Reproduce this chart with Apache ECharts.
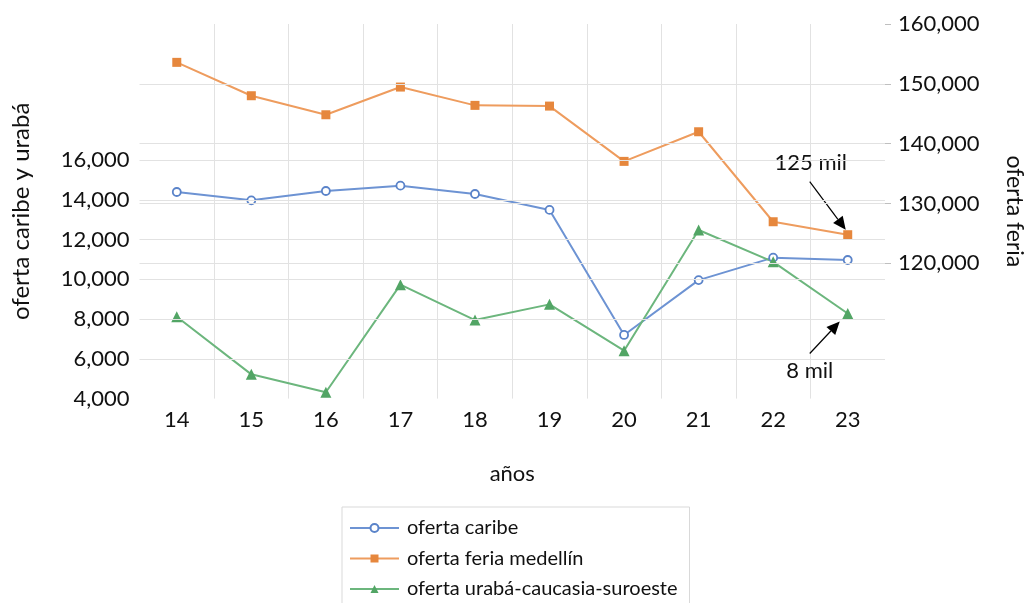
<!DOCTYPE html>
<html><head><meta charset="utf-8">
<script src="https://cdn.jsdelivr.net/npm/echarts@6/dist/echarts.min.js"></script>
<style>html,body{margin:0;padding:0;background:#fff}#c{width:1034px;height:603px}</style>
</head><body><div id="c"></div>
<script>
const years = ['14','15','16','17','18','19','20','21','22','23'];
const ofertaCaribe = [14390,13970,14440,14710,14290,13490,7200,9960,11090,10970];
const ofertaFeria = [153590,148010,144830,149460,146400,146280,137040,141990,126950,124780];
const ofertaUraba = [8120,5220,4320,9730,7950,8740,6410,12480,10880,8280];
const leftTicks = [4000,6000,8000,10000,12000,14000,16000];
const rightTicks = [120000,130000,140000,150000,160000];
const leftGrid = [6000,8000,10000,12000,14000,16000];
const rightGrid = [120000,130000,140000,150000];
const seriesNames = ['oferta caribe','oferta feria medellín','oferta urabá-caucasia-suroeste'];
const noteTexts = ['125 mil','8 mil'];

const FONT = 'Lato, "Open Sans", "DejaVu Sans", sans-serif';
const TXT = '#111';
const GRID = '#e2e2e2';
const fmt = v => v.toLocaleString('en-US');

const chart = echarts.init(document.getElementById('c'), null, {renderer:'canvas'});

function gridSeries(name, axis, values){
  return {
    name, type:'line', yAxisIndex:axis, data:[], silent:true, z:1,
    markLine:{
      silent:true, animation:false, symbol:['none','none'],
      label:{show:false}, emphasis:{disabled:true},
      lineStyle:{color:GRID, width:1, type:'solid'},
      data: values.map(v=>({yAxis:v}))
    }
  };
}

chart.setOption({
  animation:false,
  textStyle:{fontFamily:FONT},
  grid:{left:139.5, right:145, top:24, bottom:204.4, containLabel:false},
  legend:{
    data:seriesNames, orient:'vertical', left:342, top:507, height:84, width:336,
    padding:[10,12,20,7], itemWidth:49, itemHeight:10, itemGap:8.5,
    textStyle:{fontSize:20, color:TXT, fontFamily:FONT, lineHeight:22, padding:[0,0,0,3]},
    borderColor:'#d9d9d9', borderWidth:1, borderRadius:0, selectedMode:false
  },
  xAxis:{
    type:'category', data:years, boundaryGap:true,
    axisLine:{show:false}, axisTick:{show:false},
    splitLine:{show:true, showMinLine:false, showMaxLine:false, lineStyle:{color:GRID, width:1}},
    axisLabel:{fontSize:22, color:TXT, margin:10, fontFamily:FONT},
    name:'años', nameLocation:'middle', nameGap:64,
    nameTextStyle:{fontSize:22, color:TXT, fontFamily:FONT}
  },
  yAxis:[
    {
      type:'value', position:'left', min:4000, max:22840,
      axisLine:{show:false}, axisTick:{show:false}, splitLine:{show:false},
      axisLabel:{customValues:leftTicks, formatter:fmt, fontSize:22, color:TXT, margin:10, fontFamily:FONT},
      name:'oferta caribe y urabá', nameLocation:'middle', nameGap:106, nameRotate:90,
      nameTextStyle:{fontSize:24, color:TXT, fontFamily:FONT}
    },
    {
      type:'value', position:'right', min:97390, max:160000,
      axisLine:{show:false},
      axisTick:{show:true, customValues:rightTicks, length:6, lineStyle:{color:'#bfbfbf', width:1}},
      splitLine:{show:false},
      axisLabel:{customValues:rightTicks, formatter:fmt, fontSize:22, color:TXT, margin:13, fontFamily:FONT},
      name:'oferta feria', nameLocation:'middle', nameGap:118, nameRotate:-90,
      nameTextStyle:{fontSize:23, color:TXT, fontFamily:FONT}
    }
  ],
  series:[
    gridSeries('gridL',0,leftGrid),
    gridSeries('gridR',1,rightGrid),
    {
      name:seriesNames[0], type:'line', yAxisIndex:0, data:ofertaCaribe, z:3,
      symbol:'circle', symbolSize:8, showAllSymbol:true,
      lineStyle:{color:'#6d93d3', width:2},
      itemStyle:{color:'#ffffff', borderColor:'#5a83c9', borderWidth:1.8}
    },
    {
      name:seriesNames[1], type:'line', yAxisIndex:1, data:ofertaFeria, z:3,
      symbol:'rect', symbolSize:9, showAllSymbol:true,
      lineStyle:{color:'#ee9c5e', width:2},
      itemStyle:{color:'#e6873d'}
    },
    {
      name:seriesNames[2], type:'line', yAxisIndex:0, data:ofertaUraba, z:3,
      symbol:'triangle', symbolSize:11, showAllSymbol:true,
      lineStyle:{color:'#6cb67d', width:2},
      itemStyle:{color:'#52a565'}
    }
  ]
});

function arrowGraphics(x1,y1,x2,y2){
  const ang = Math.atan2(y2-y1, x2-x1);
  const L = 13, W = 6;
  const bx = x2 - L*Math.cos(ang), by = y2 - L*Math.sin(ang);
  const px = -Math.sin(ang)*W, py = Math.cos(ang)*W;
  return [
    {type:'line', silent:true, shape:{x1, y1, x2:bx, y2:by}, style:{stroke:'#000', lineWidth:1.2}},
    {type:'polygon', silent:true, shape:{points:[[x2,y2],[bx+px,by+py],[bx-px,by-py]]}, style:{fill:'#000'}}
  ];
}
function textGraphic(x,y,t){
  return {type:'text', silent:true, x, y, style:{text:t, fill:TXT, fontSize:22, fontFamily:FONT,
    align:'center', verticalAlign:'middle', textAlign:'center', textVerticalAlign:'middle'}};
}

const last = years.length-1;
const pF = chart.convertToPixel({xAxisIndex:0, yAxisIndex:1}, [years[last], ofertaFeria[last]]);
const pU = chart.convertToPixel({xAxisIndex:0, yAxisIndex:0}, [years[last], ofertaUraba[last]]);
const g = [];
g.push(...arrowGraphics(pF[0]-38, pF[1]-53, pF[0]-2, pF[1]-5));
g.push(textGraphic(pF[0]-37, pF[1]-72, noteTexts[0]));
g.push(...arrowGraphics(pU[0]-38, pU[1]+40, pU[0]-8, pU[1]+8));
g.push(textGraphic(pU[0]-38, pU[1]+57, noteTexts[1]));
chart.setOption({graphic:g});
</script>
</body></html>
